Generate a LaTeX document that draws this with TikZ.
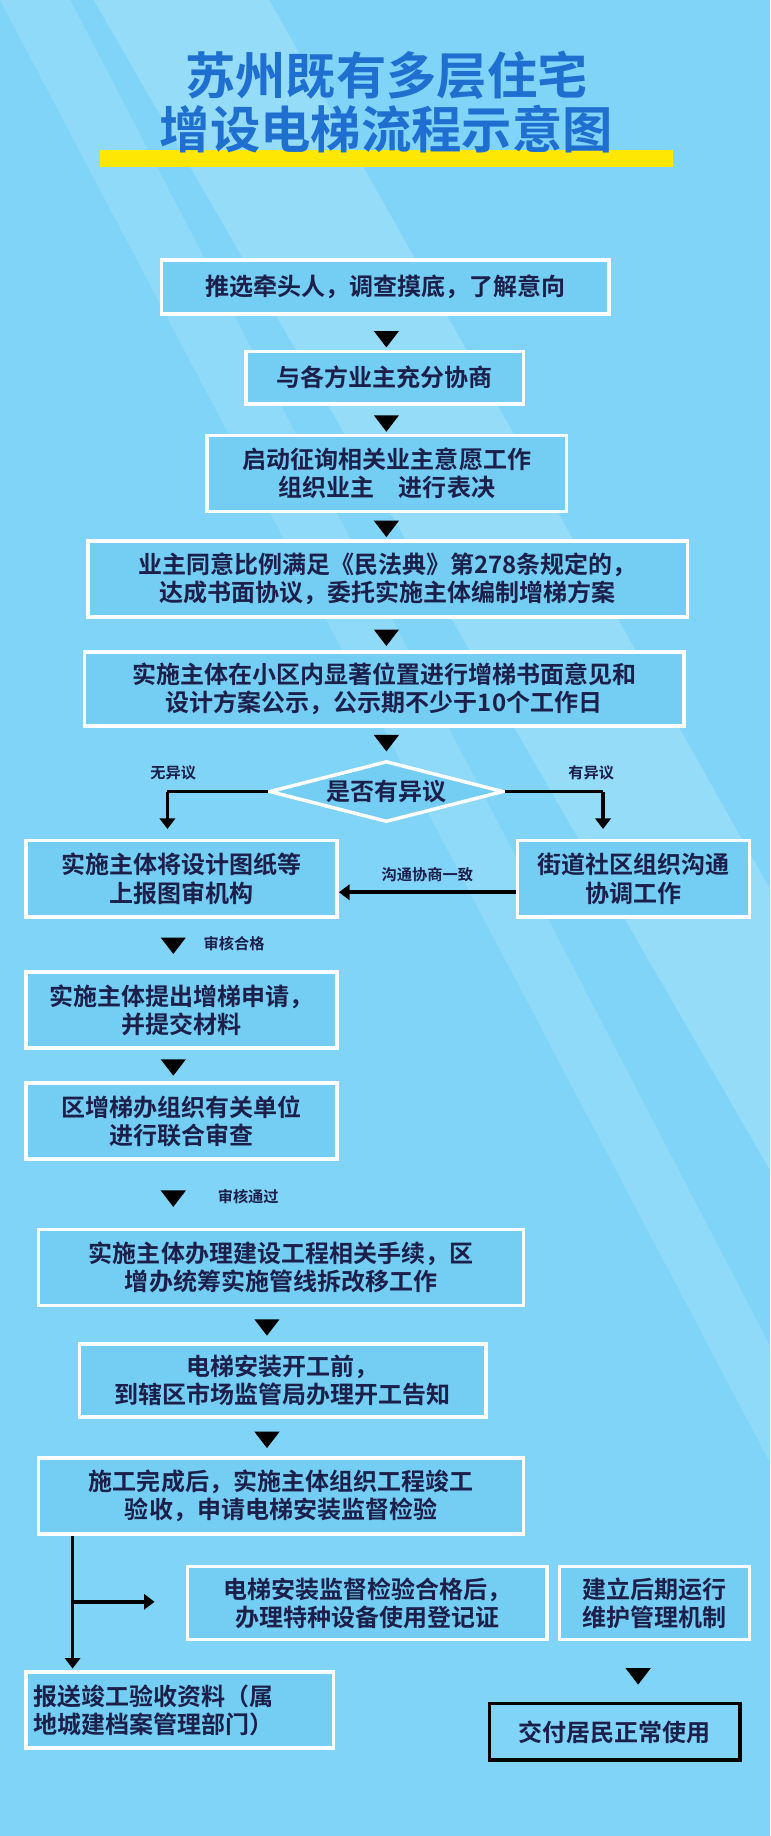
\documentclass[tikz,border=0pt]{standalone}
\usepackage{fontspec}
\setmainfont{Noto Sans CJK SC}[BoldFont={Noto Sans CJK SC Bold}]
\usetikzlibrary{shapes.geometric}
\definecolor{bg}{HTML}{7FD4F7}
\definecolor{band}{HTML}{9FE0FA}
\definecolor{boxf}{HTML}{74CDF3}
\definecolor{txt}{HTML}{1B1F4A}
\definecolor{ttl}{HTML}{1E6FD0}
\tikzset{
 box/.style={draw=white,line width=3pt,fill=boxf,text=txt,font=\fontsize{20.5}{24}\selectfont\bfseries,align=center,inner sep=0pt},
 tri/.style={fill=black,draw=none,isosceles triangle,shape border rotate=-90,isosceles triangle apex angle=75,minimum size=14pt,inner sep=0pt},
 lab/.style={text=txt,font=\fontsize{13}{15}\selectfont\bfseries},
 ln/.style={line width=3pt,black},
 ar/.style={line width=3pt,black,-{Triangle[length=9pt,width=13pt]}}
}
\usetikzlibrary{arrows.meta}
\newcommand{\bx}[6]{\node[box,minimum width=#4-#2,minimum height=#5-#3] (#1) at ({(#2+#4)/2},{(#3+#5)/2}) {#6};}
\begin{document}
\begin{tikzpicture}[x=1pt,y=-1pt]
\fill[bg] (0,0) rectangle (658,1568);
\useasboundingbox (0,0) rectangle (658,1568);
\fill[band,opacity=0.7] (80,0) -- (230,0) -- (658,760) -- (658,1000) -- (80,0);
\fill[band,opacity=0.5] (0,0) -- (60,0) -- (658,1150) -- (658,1250) -- cycle;
% title
\fill[yellow!90!orange] (85,128) rectangle (575,143);
\node[font=\fontsize{43}{46}\selectfont\bfseries,text=ttl,inner sep=0pt] (t1) at (330,64) {苏州既有多层住宅};
\node[font=\fontsize{43}{46}\selectfont\bfseries,text=ttl,inner sep=0pt] (t2) at (330,110) {增设电梯流程示意图};
\bx{b1}{138}{222}{520}{268}{推选牵头人，调查摸底，了解意向}
\bx{b2}{210}{300}{447}{345}{与各方业主充分协商}
\bx{b3}{177}{372}{484}{437}{启动征询相关业主意愿工作\\组织业主\quad 进行表决}
\bx{b4}{75}{462}{587}{527}{业主同意比例满足《民法典》第278条规定的，\\达成书面协议，委托实施主体编制增梯方案}
\bx{b5}{72}{557}{584}{620}{实施主体在小区内显著位置进行增梯书面意见和\\设计方案公示，公示期不少于10个工作日}
\node[box,diamond,aspect=4,minimum width=200pt,minimum height=52pt] (d) at (330,676) {是否有异议};
\bx{b6}{22}{718}{288}{783}{实施主体将设计图纸等\\上报图审机构}
\bx{b6r}{442}{718}{640}{783}{街道社区组织沟通\\协调工作}
\bx{b7}{22}{830}{288}{895}{实施主体提出增梯申请，\\并提交材料}
\bx{b8}{22}{925}{288}{990}{区增梯办组织有关单位\\进行联合审查}
\bx{b9}{33}{1050}{447}{1115}{实施主体办理建设工程相关手续，区\\增办统筹实施管线拆改移工作}
\bx{b10}{68}{1148}{415}{1210}{电梯安装开工前，\\到辖区市场监管局办理开工告知}
\bx{b11}{33}{1245}{447}{1310}{施工完成后，实施主体组织工程竣工\\验收，申请电梯安装监督检验}
\bx{b12}{160}{1338}{467}{1400}{电梯安装监督检验合格后，\\办理特种设备使用登记证}
\bx{b13}{478}{1338}{640}{1400}{建立后期运行\\维护管理机制}
\node[box,minimum width=263pt,minimum height=65pt,align=left,text width=250pt] (b14) at (153.5,1460.5) {报送竣工验收资料（属\\地城建档案管理部门）};
\node[box,draw=black,fill=bg,minimum width=214pt,minimum height=48pt] (b15) at (525,1479) {交付居民正常使用};
% triangles
\foreach \x/\y in {330/288,330/360,330/450,330/543,330/633,148/806,148/910,148/1022,228/1132,228/1228,545/1430}
 \node[tri] at (\x,\y) {};
\node[lab] at (200,806) {审核合格};
\node[lab] at (212,1022) {审核通过};
% branches
\coordinate (dl) at (143,676); \coordinate (dr) at (515,676);
\draw[ln] (d.west) -- (dl);
\draw[ar] (dl) -- (143,708);
\draw[ln] (d.east) -- (dr);
\draw[ar] (dr) -- (515,708);
\node[lab] at (148,660) {无异议};
\node[lab] at (505,660) {有异议};
\draw[ar] (b6r.west|-0,762) -- (b6.east|-0,762);
\node[lab] at (365,747) {沟通协商一致};
\coordinate (v1) at (62,1368);
\draw[ar] (b11.south-|v1) -- (62,1425);
\draw[ar] (v1) -- (132,1368);
\end{tikzpicture}
\end{document}
